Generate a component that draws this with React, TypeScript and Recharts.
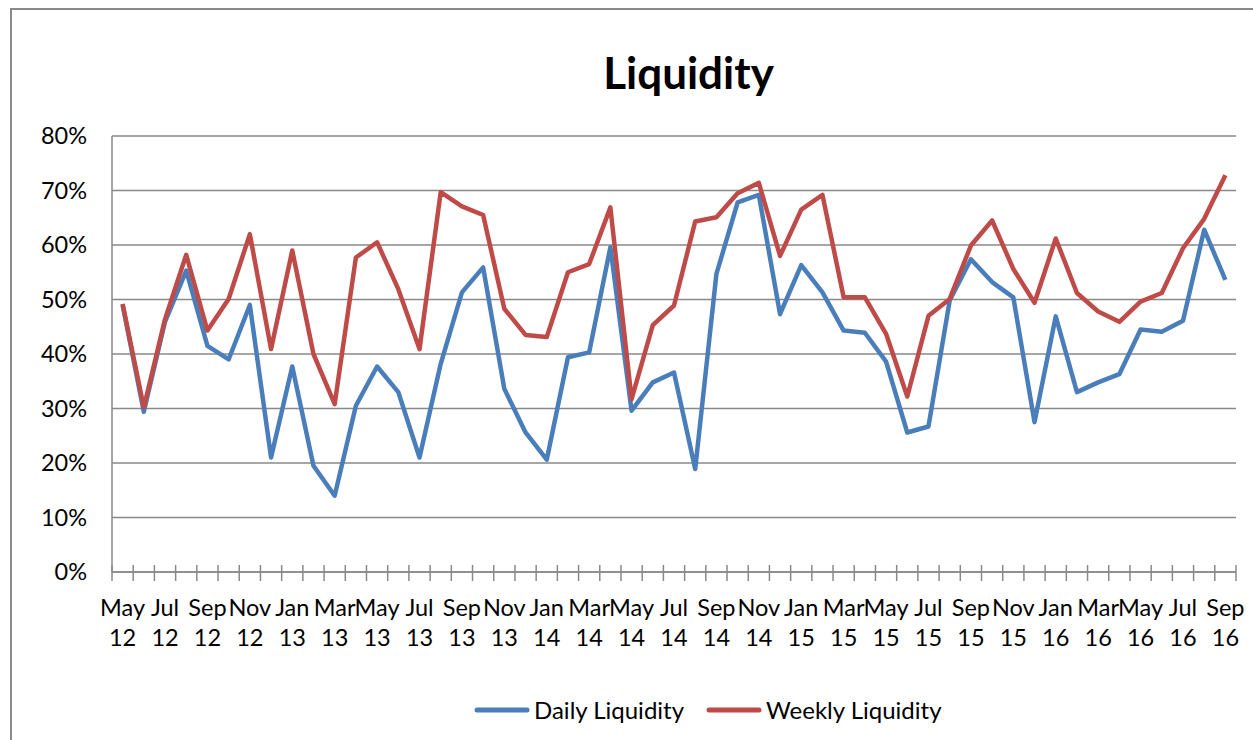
import React from "react";
import { LineChart, Line, XAxis, YAxis, CartesianGrid, Legend } from "recharts";

const categories = [
  "May 12", "Jun 12", "Jul 12", "Aug 12", "Sep 12", "Oct 12", "Nov 12", "Dec 12",
  "Jan 13", "Feb 13", "Mar 13", "Apr 13", "May 13", "Jun 13", "Jul 13", "Aug 13", "Sep 13", "Oct 13", "Nov 13", "Dec 13",
  "Jan 14", "Feb 14", "Mar 14", "Apr 14", "May 14", "Jun 14", "Jul 14", "Aug 14", "Sep 14", "Oct 14", "Nov 14", "Dec 14",
  "Jan 15", "Feb 15", "Mar 15", "Apr 15", "May 15", "Jun 15", "Jul 15", "Aug 15", "Sep 15", "Oct 15", "Nov 15", "Dec 15",
  "Jan 16", "Feb 16", "Mar 16", "Apr 16", "May 16", "Jun 16", "Jul 16", "Aug 16", "Sep 16",
];

const dailyLiquidity = [
  49.0, 29.4, 45.9, 55.3, 41.5, 39.0, 49.0, 21.0, 37.7, 19.5,
  14.0, 30.5, 37.7, 33.0, 21.0, 38.2, 51.3, 55.9, 33.6, 25.6,
  20.6, 39.4, 40.3, 59.6, 29.6, 34.8, 36.6, 18.9, 54.7, 67.8,
  69.2, 47.3, 56.3, 51.3, 44.3, 43.9, 38.6, 25.6, 26.7, 49.8,
  57.4, 53.2, 50.4, 27.5, 46.9, 33.0, 34.8, 36.3, 44.5, 44.1,
  46.1, 62.8, 53.6,
];

const weeklyLiquidity = [
  49.2, 30.2, 46.4, 58.2, 44.3, 50.1, 62.0, 40.9, 59.0, 40.0,
  30.8, 57.7, 60.5, 51.9, 40.9, 69.7, 67.1, 65.5, 48.3, 43.5,
  43.1, 55.0, 56.5, 66.9, 31.7, 45.3, 48.9, 64.3, 65.1, 69.5,
  71.4, 58.0, 66.5, 69.2, 50.4, 50.4, 43.7, 32.2, 47.0, 50.1,
  59.9, 64.5, 55.6, 49.4, 61.2, 51.2, 47.8, 45.9, 49.6, 51.2,
  59.4, 64.8, 72.8,
];

const yTicks = [0, 10, 20, 30, 40, 50, 60, 70, 80];

const data = categories.map((c, i) => ({
  idx: i,
  label: c,
  daily: dailyLiquidity[i],
  weekly: weeklyLiquidity[i],
}));

// tick positions: category boundaries (half values) and category centres (integers)
const xTicks: number[] = [];
for (let i = 0; i <= categories.length; i++) {
  xTicks.push(i - 0.5);
  if (i < categories.length) xTicks.push(i);
}

const FONT = "Lato, 'Open Sans', sans-serif";
const GRID = "#898989";
const BLUE = "#4A7EBB";
const RED = "#BE4B48";
const AXIS_FONT = 23.5;

const XTick = (props: any) => {
  const { x, y, payload } = props;
  const v = payload.value as number;
  if (!Number.isInteger(v)) {
    return <line x1={x} x2={x} y1={y - 9} y2={y + 7} stroke={GRID} strokeWidth={1.5} />;
  }
  if (v % 2 !== 0) return null;
  const [m, yr] = categories[v].split(" ");
  return (
    <g>
      <text x={x} y={y + 42} textAnchor="middle" fontFamily={FONT} fontSize={AXIS_FONT} fill="#000">
        {m}
      </text>
      <text x={x} y={y + 72} textAnchor="middle" fontFamily={FONT} fontSize={AXIS_FONT} fill="#000">
        {yr}
      </text>
    </g>
  );
};

const LegendContent = () => {
  const items = [
    { name: "Daily Liquidity", color: BLUE },
    { name: "Weekly Liquidity", color: RED },
  ];
  return (
    <div style={{ display: "flex", justifyContent: "flex-start", alignItems: "center", fontFamily: FONT, fontSize: 24, color: "#000" }}>
      {items.map((it, k) => (
        <div key={it.name} style={{ display: "flex", alignItems: "center", marginLeft: k === 0 ? 0 : 22 }}>
          <svg width={56} height={10} style={{ marginRight: 4 }}>
            <line x1={3} x2={53} y1={5} y2={5} stroke={it.color} strokeWidth={5} strokeLinecap="round" />
          </svg>
          <span>{it.name}</span>
        </div>
      ))}
    </div>
  );
};

export default function App() {
  return (
    <div style={{ position: "absolute", left: 0, top: 0, width: 1253, height: 740, overflow: "hidden", background: "#fff" }}>
      <div
        style={{
          position: "absolute",
          left: 10,
          top: 8,
          width: 1300,
          height: 800,
          border: "2px solid #8a8a8a",
          boxSizing: "border-box",
        }}
      />
      <div
        style={{
          position: "absolute",
          left: 0,
          width: 1377,
          top: 42,
          textAlign: "center",
          fontFamily: FONT,
          fontWeight: 700,
          fontSize: 44,
          lineHeight: "60px",
          color: "#000",
        }}
      >
        Liquidity
      </div>
      <div style={{ position: "absolute", left: 0, top: 0 }}>
        <LineChart width={1253} height={740} data={data} margin={{ top: 136, right: 17, bottom: 0, left: 0 }}>
          <CartesianGrid horizontal vertical={false} stroke={GRID} strokeWidth={1.5} />
          <XAxis
            dataKey="idx"
            type="number"
            domain={[-0.5, categories.length - 0.5]}
            ticks={xTicks}
            interval={0}
            tickSize={0}
            tickLine={false}
            tick={<XTick />}
            axisLine={{ stroke: GRID, strokeWidth: 1.5 }}
            height={168}
            allowDecimals
          />
          <YAxis
            type="number"
            domain={[0, 80]}
            ticks={yTicks}
            interval={0}
            tickFormatter={(v: number) => `${v}%`}
            width={112}
            tickSize={0}
            tickMargin={25}
            tickLine={false}
            axisLine={{ stroke: GRID, strokeWidth: 1.5 }}
            tick={{ fill: "#000", fontSize: AXIS_FONT, fontFamily: FONT }}
          />
          <Legend
            layout="horizontal"
            verticalAlign="middle"
            align="center"
            wrapperStyle={{ top: 695, left: 474, width: 720 }}
            content={<LegendContent />}
          />
          <Line
            type="linear"
            dataKey="daily"
            name="Daily Liquidity"
            stroke={BLUE}
            strokeWidth={4.5}
            dot={false}
            isAnimationActive={false}
            strokeLinejoin="round"
          />
          <Line
            type="linear"
            dataKey="weekly"
            name="Weekly Liquidity"
            stroke={RED}
            strokeWidth={4.5}
            dot={false}
            isAnimationActive={false}
            strokeLinejoin="round"
          />
        </LineChart>
      </div>
    </div>
  );
}
